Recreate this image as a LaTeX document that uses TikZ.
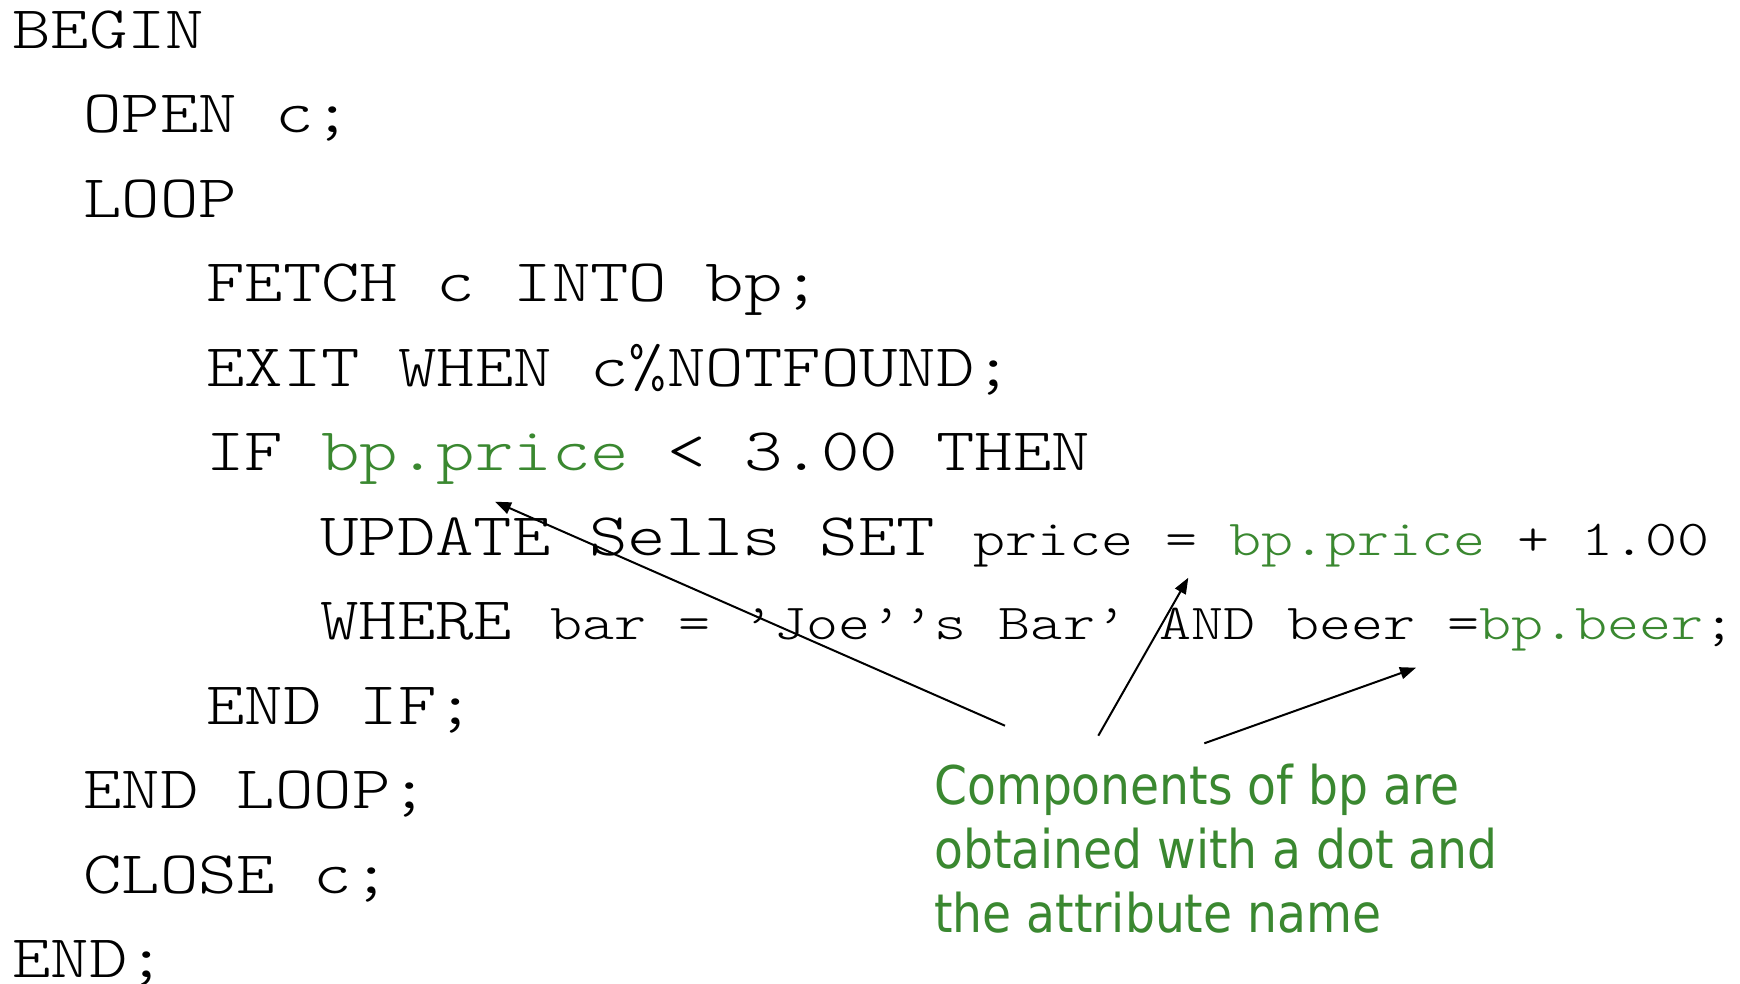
\documentclass[tikz,border=0pt]{standalone}
\usepackage{fontspec}
\usetikzlibrary{arrows.meta}
\newfontfamily\codefont[FakeStretch=1.21]{lmmonolt10-regular.otf}
\newfontfamily\notefont[FakeStretch=0.885]{DejaVu Sans}
\definecolor{codegreen}{RGB}{58,136,48}
\newcommand{\bigcode}{\fontsize{60.5pt}{72pt}\selectfont}
\newcommand{\smlcode}{\fontsize{50.4pt}{60pt}\selectfont}
\newcommand{\grn}[1]{\textcolor{codegreen}{#1}}
\tikzset{
  codeline/.style={anchor=base west, inner sep=0pt, font=\codefont\frenchspacing\bigcode},
  note/.style={anchor=north west, inner sep=0pt, align=left, text=codegreen,
    font=\notefont\fontsize{53.33pt}{64pt}\selectfont},
  pointer/.style={line width=2pt, -{Triangle[length=16pt,width=12pt]}}
}
\begin{document}
\begin{tikzpicture}[x=1pt,y=-1pt]
\fill[white] (0,0) rectangle (1740,983);
\useasboundingbox (0,0) rectangle (1740,983);
\node[codeline] (l0) at (12,48.3) {BEGIN};
\node[codeline] (l1) at (83,132.8) {OPEN c;};
\node[codeline] (l2) at (83,217.3) {LOOP};
\node[codeline] (l3) at (206,301.8) {FETCH c INTO bp;};
\node[codeline] (l4) at (206,386.3) {EXIT WHEN c\%NOTFOUND;};
\node[codeline] (l5) at (206,470.8) {IF \grn{bp.price} < 3.00 THEN};
\node[codeline] (l6) at (320,555.3) {UPDATE Sells SET {\smlcode price = \grn{bp.price} + 1.00}};
\node[codeline] (l7) at (320,639.8) {WHERE {\smlcode bar = ’Joe’’s Bar’ AND beer =\grn{bp.beer};}};
\node[codeline] (l8) at (206,724.3) {END IF;};
\node[codeline] (l9) at (83,808.8) {END LOOP;};
\node[codeline] (l10) at (83,893.3) {CLOSE c;};
\node[codeline] (l11) at (12,977.8) {END;};
\node[note] (n) at (934,763.5) {Components of bp are\\obtained with a dot and\\the attribute name};
\coordinate (t1) at (1005,725.7);
\coordinate (h1) at (495,501.7);
\coordinate (t2) at (1098.3,735.7);
\coordinate (h2) at (1188.3,577.7);
\coordinate (t3) at (1204.3,743.3);
\coordinate (h3) at (1416,667.7);
\draw[pointer] (t1) -- (h1);
\draw[pointer] (t2) -- (h2);
\draw[pointer] (t3) -- (h3);
\end{tikzpicture}
\end{document}
